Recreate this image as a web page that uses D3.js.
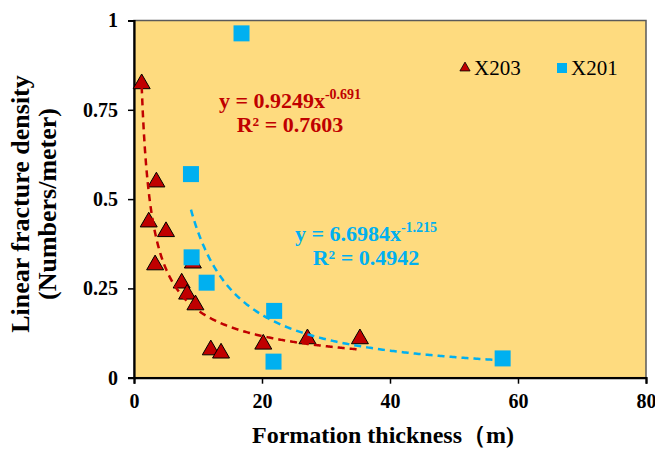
<!DOCTYPE html>
<html>
<head>
<meta charset="utf-8">
<script src="https://cdn.jsdelivr.net/npm/d3@7"></script>
<style>
  body { margin: 0; background: #fff; }
  svg text { font-family: "Liberation Serif", "Times New Roman", serif; }
</style>
</head>
<body>
<svg id="chart" width="655" height="450"></svg>
<script>
// Well X203: formation thickness (m) vs linear fracture density (numbers/m)
const x203Thickness = [1.2, 3.5, 2.3, 5.0, 3.3, 9.2, 7.45, 8.3, 9.6, 12.0, 13.6, 20.2, 27.1, 35.3];
const x203Density   = [0.827, 0.552, 0.44, 0.413, 0.32, 0.325, 0.269, 0.238, 0.208, 0.082, 0.073, 0.098, 0.113, 0.113];

// Well X201
const x201Thickness = [16.8, 8.9, 9.0, 11.35, 21.9, 21.8, 57.6];
const x201Density   = [0.964, 0.570, 0.337, 0.266, 0.187, 0.045, 0.054];

// Power-law fits y = a * x^b
const x203Fit = { a: 0.9249, b: -0.691, r2: "0.7603" };
const x201Fit = { a: 6.6984, b: -1.215, r2: "0.4942" };

const xTicks = [0, 20, 40, 60, 80];
const yTicks = [0, 0.25, 0.5, 0.75, 1];
const yTickLabels = ["0", "0.25", "0.5", "0.75", "1"];

const RED = "#C00000";
const BLUE = "#00B0F0";

const svg = d3.select("#chart");
const margin = { left: 134, right: 9, top: 20.5, bottom: 72.3 };
const W = 655, H = 450;

const x = d3.scaleLinear().domain([0, 80]).range([margin.left, W - margin.right]);
const y = d3.scaleLinear().domain([0, 1]).range([H - margin.bottom, margin.top]);

// plot area background and frame
svg.append("rect")
  .attr("x", x(0)).attr("y", y(1))
  .attr("width", x(80) - x(0)).attr("height", y(0) - y(1))
  .attr("fill", "#FEDB7F")
  .attr("stroke", "#5a5a5a").attr("stroke-width", 1.5);

// axes
const xAxis = d3.axisBottom(x).tickValues(xTicks).tickSize(6).tickFormat(d3.format("d"));
const yAxis = d3.axisLeft(y).tickValues(yTicks).tickSize(6)
  .tickFormat(d => yTickLabels[yTicks.indexOf(d)]);

const gx = svg.append("g").attr("transform", `translate(0,${y(0)})`).call(xAxis);
const gy = svg.append("g").attr("transform", `translate(${x(0)},0)`).call(yAxis);

[gx, gy].forEach(g => {
  g.select(".domain").attr("stroke", "#000").attr("stroke-width", 2.2);
  g.selectAll(".tick line").attr("stroke", "#000").attr("stroke-width", 1.5);
  g.selectAll(".tick text")
    .attr("fill", "#000")
    .style("font-family", "Liberation Serif")
    .style("font-size", "20px")
    .style("font-weight", "bold");
});
gx.selectAll(".tick text").attr("dy", 0).attr("y", 30.5);
gy.selectAll(".tick text").attr("x", -16);

// axis titles
svg.append("text")
  .attr("x", 383).attr("y", 443)
  .attr("text-anchor", "middle")
  .style("font-size", "24px").style("font-weight", "bold")
  .text("Formation thickness（m)");

const yTitle = svg.append("text")
  .attr("transform", `translate(0,204) rotate(-90)`)
  .attr("text-anchor", "middle")
  .style("font-size", "26px").style("font-weight", "bold");
yTitle.append("tspan").attr("x", 0).attr("y", 29).text("Linear fracture density");
yTitle.append("tspan").attr("x", 0).attr("y", 56).text("(Numbers/meter)");

// trend curves
function fitCurve(fit, xs) {
  const lo = d3.min(xs), hi = d3.max(xs);
  return d3.range(0, 201).map(i => {
    const xv = lo + (hi - lo) * i / 200;
    return [xv, fit.a * Math.pow(xv, fit.b)];
  });
}
const line = d3.line().x(d => x(d[0])).y(d => y(d[1]));

// markers
const tri = d3.symbol().type(d3.symbolTriangle).size(125);
svg.append("g").selectAll("path")
  .data(x203Thickness.map((t, i) => [t, x203Density[i]]))
  .join("path")
  .attr("d", tri)
  .attr("transform", d => `translate(${x(d[0])},${y(d[1]) + 1.5})`)
  .attr("fill", RED).attr("stroke", "#000").attr("stroke-width", 1);

svg.append("path")
  .attr("d", line(fitCurve(x203Fit, x203Thickness)))
  .attr("fill", "none").attr("stroke", RED)
  .attr("stroke-width", 2.5).attr("stroke-dasharray", "7,5");

const sq = 16;
svg.append("g").selectAll("rect")
  .data(x201Thickness.map((t, i) => [t, x201Density[i]]))
  .join("rect")
  .attr("x", d => x(d[0]) - sq / 2).attr("y", d => y(d[1]) - sq / 2)
  .attr("width", sq).attr("height", sq)
  .attr("fill", BLUE);

svg.append("path")
  .attr("d", line(fitCurve(x201Fit, x201Thickness)))
  .attr("fill", "none").attr("stroke", BLUE)
  .attr("stroke-width", 2.5).attr("stroke-dasharray", "7,5");

// equation labels
function equation(cx, cy, fit, color) {
  const t = svg.append("text")
    .attr("x", cx).attr("y", cy)
    .attr("text-anchor", "middle")
    .attr("fill", color)
    .style("font-size", "22px").style("font-weight", "bold");
  t.append("tspan").text(`y = ${fit.a}x`);
  t.append("tspan").attr("dy", -9).style("font-size", "14px").text(fit.b);
  svg.append("text")
    .attr("x", cx).attr("y", cy + 24)
    .attr("text-anchor", "middle")
    .attr("fill", color)
    .style("font-size", "22px").style("font-weight", "bold")
    .text(`R² = ${fit.r2}`);
}
equation(290, 108, x203Fit, RED);
equation(366, 241, x201Fit, BLUE);

// legend
const legend = svg.append("g").style("font-size", "21px");
legend.append("path")
  .attr("d", d3.symbol().type(d3.symbolTriangle).size(45))
  .attr("transform", `translate(465,68)`)
  .attr("fill", RED).attr("stroke", "#000").attr("stroke-width", 0.8);
legend.append("text").attr("x", 474).attr("y", 75).text("X203");
legend.append("rect").attr("x", 557).attr("y", 63).attr("width", 10).attr("height", 10).attr("fill", BLUE);
legend.append("text").attr("x", 571).attr("y", 75).text("X201");
</script>
</body>
</html>
